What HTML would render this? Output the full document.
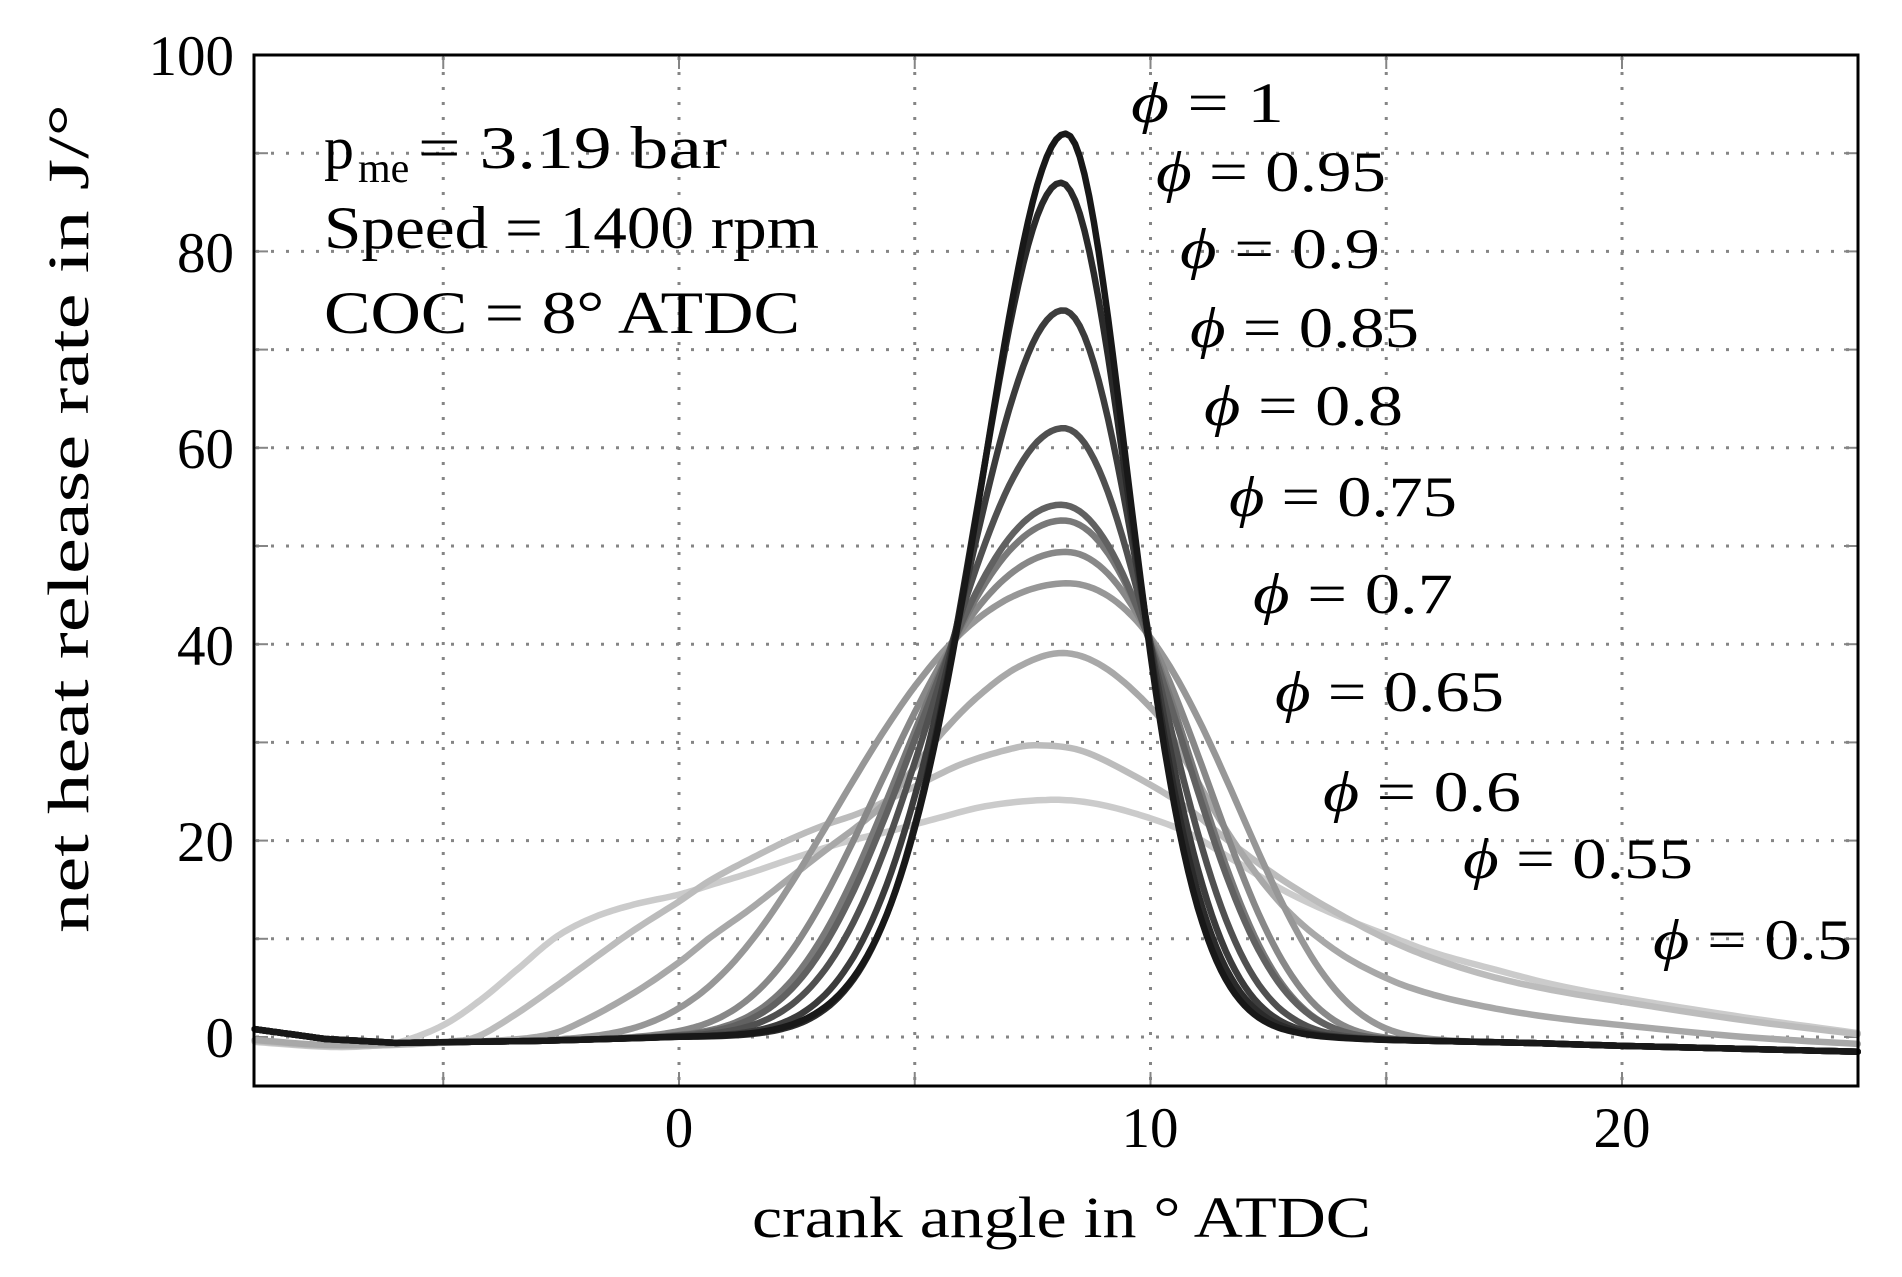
<!DOCTYPE html>
<html><head><meta charset="utf-8"><style>
html,body{margin:0;padding:0;background:#fff;}
svg{display:block;font-family:"Liberation Serif","DejaVu Serif",serif;}
</style></head><body>
<svg id="s" width="1902" height="1277" viewBox="0 0 1902 1277" xmlns="http://www.w3.org/2000/svg">
<rect width="1902" height="1277" fill="#fff"/>
<g id="grid" stroke="#858585" stroke-width="3" stroke-dasharray="3 12" fill="none"></g>
<g id="ticks" stroke="#858585" stroke-width="2" fill="none"></g>
<g id="curves" fill="none" stroke-width="6.5" stroke-linejoin="round" stroke-linecap="round"></g>
<rect x="254" y="55" width="1604" height="1031" fill="none" stroke="#000" stroke-width="3"/>
<g font-size="57" fill="#000" text-anchor="end">
<text x="234" y="75">100</text><text x="234" y="272">80</text><text x="234" y="468">60</text>
<text x="234" y="665">40</text><text x="234" y="861">20</text><text x="234" y="1057">0</text>
</g>
<g font-size="57" fill="#000" text-anchor="middle">
<text x="679" y="1147">0</text><text x="1150" y="1147">10</text><text x="1622" y="1147">20</text>
</g>
<text x="752" y="1237" font-size="58" textLength="619" lengthAdjust="spacingAndGlyphs">crank angle in ° ATDC</text>
<text transform="translate(88,933) rotate(-90)" font-size="58" textLength="829" lengthAdjust="spacingAndGlyphs">net heat release rate in J/°</text>
<g font-size="60" fill="#000">
<text x="324" y="168">p</text><text x="358" y="182" font-size="42">me</text><text x="418" y="168" textLength="309" lengthAdjust="spacingAndGlyphs">= 3.19 bar</text>
<text x="324" y="248" textLength="495" lengthAdjust="spacingAndGlyphs">Speed = 1400 rpm</text>
<text x="324" y="333" textLength="476" lengthAdjust="spacingAndGlyphs">COC = 8° ATDC</text>
</g>
<g font-size="57" fill="#000" id="labels"></g>
</svg>
<script>
var NS="http://www.w3.org/2000/svg";
function X(x){return 679+x*47.15;}
function Y(y){return 1037-y*9.82;}
var g=document.getElementById('grid'),tk=document.getElementById('ticks');
function line(p,x1,y1,x2,y2){var l=document.createElementNS(NS,'line');l.setAttribute('x1',x1);l.setAttribute('y1',y1);l.setAttribute('x2',x2);l.setAttribute('y2',y2);p.appendChild(l);}
[-5,0,5,10,15,20].forEach(function(v){line(g,X(v),57,X(v),1084);line(tk,X(v),1086,X(v),1072);line(tk,X(v),55,X(v),69);});
for(var v=0;v<=90;v+=10){line(g,256,Y(v),1856,Y(v));line(tk,254,Y(v),268,Y(v));line(tk,1858,Y(v),1844,Y(v));}
function b(x){var P=[[-9,0.8],[-7.5,-0.2],[-6,-0.6],[-3,-0.4],[0,0],[13,0],[15,-0.3],[18,-0.6],[20,-0.9],[25,-1.5]];
 for(var i=0;i<P.length-1;i++){if(x<=P[i+1][0]){var t=(x-P[i][0])/(P[i+1][0]-P[i][0]);return P[i][1]+t*(P[i+1][1]-P[i][1]);}}return -1.5;}
function gf(z,p){return Math.exp(-(Math.pow(1+z*z,p/2)-1)/p);}
function solveZ(r,p){var lo=0,hi=20;for(var i=0;i<60;i++){var m=(lo+hi)/2;if(gf(m,p)>r)lo=m;else hi=m;}return (lo+hi)/2;}
function para(A,c,xl,xr,p){var z0=solveZ(40/A,p);var sl=(c-xl)/z0,sr=(xr-c)/z0;var pts=[];
 for(var x=-9;x<=25.001;x+=0.1){var z=x<c?(c-x)/sl:(x-c)/sr;pts.push([X(x),Y(A*gf(z,p)+b(x))]);}return pts;}
function cr(P){var pts=[];for(var i=0;i<P.length-1;i++){var p0=P[Math.max(i-1,0)],p1=P[i],p2=P[i+1],p3=P[Math.min(i+2,P.length-1)];
 for(var t=0;t<1;t+=0.1){var t2=t*t,t3=t2*t;var f=function(a,b2,c2,d){return 0.5*((2*b2)+(-a+c2)*t+(2*a-5*b2+4*c2-d)*t2+(-a+3*b2-3*c2+d)*t3);};
 pts.push([X(f(p0[0],p1[0],p2[0],p3[0])),Y(f(p0[1],p1[1],p2[1],p3[1]))]);}}
 var L=P[P.length-1];pts.push([X(L[0]),Y(L[1])]);return pts;}
function draw(pts,col){var d='M'+pts.map(function(p){return p[0].toFixed(1)+' '+p[1].toFixed(1);}).join('L');
 var pa=document.createElementNS(NS,'path');pa.setAttribute('d',d);pa.setAttribute('stroke',col);document.getElementById('curves').appendChild(pa);}
var c05=[[-9,-0.5],[-7.5,-1],[-6.5,-0.9],[-5.9,-0.5],[-5,1.2],[-4.2,3.8],[-3.4,7],[-2.6,10.2],[-1.8,12.2],[-0.95,13.5],[0,14.5],[0.68,15.5],[1.5,16.7],[2.3,18],[3.4,19.7],[4.5,21],[5.5,22.3],[6.5,23.5],[7.6,24.1],[8.5,24],[9.5,23],[10.7,21],[11.7,18.2],[12.8,15],[13.9,12.5],[15,10.4],[16,8.6],[17.2,7],[18.5,5.4],[20,4],[22.6,2],[25,0.4]];
var c055=[[-9,-0.4],[-7.5,-0.9],[-6,-0.8],[-5,-0.5],[-4.3,0],[-3.5,2.2],[-2.6,5.2],[-1.8,8],[-0.95,10.9],[0,13.8],[0.68,16],[1.5,18.1],[2.3,20],[3.1,21.6],[3.93,23],[5,25.5],[6,27.8],[7,29.3],[7.6,29.7],[8.5,29.2],[9.5,27],[10.7,23.6],[11.7,19.8],[12.8,16],[13.9,12.8],[15,10],[16,8],[17.2,6.2],[18.5,4.8],[20,3.6],[22.6,1.7],[25,0.3]];
var c06=[[-9,-0.3],[-7.5,-0.8],[-6,-0.7],[-4,-0.4],[-2.8,0.2],[-2,1.7],[-0.95,4.5],[0,7.6],[0.68,10.2],[1.5,13],[2.3,16],[3.1,19],[3.93,22],[4.5,24.5],[5,27.5],[5.55,30.8],[6.3,34.5],[7.2,37.7],[8.15,39.1],[9.1,37.4],[10.2,32.5],[10.7,28.5],[11.75,20],[12.8,13.4],[13.9,8.9],[15,6],[16,4.3],[17.2,3],[18.5,2],[20,1.2],[22.6,0],[25,-0.7]];
draw(cr(c05),'#cbcbcb');draw(cr(c055),'#bcbcbc');draw(cr(c06),'#a8a8a8');
var P=[[46.2,8.25,5.75,10.1,3.5,'#979797'],[49.4,8.2,5.8,10.05,3.2,'#888888'],[52.6,8.15,5.8,10.02,2.9,'#797979'],[54.2,8.1,5.8,10.0,2.7,'#616161'],[62,8.15,5.78,10.0,2.3,'#505050'],[74,8.15,5.8,10.0,2.0,'#3c3c3c'],[87,8.1,5.82,9.98,1.8,'#2a2a2a'],[92,8.2,5.84,9.97,1.7,'#181818']];
P.forEach(function(p){draw(para(p[0],p[1],p[2],p[3],p[4]),p[5]);});
var labs=[['1',1131,122,153],['0.95',1156,191,230],['0.9',1180,268,200],['0.85',1190,347,229],['0.8',1204,425,199],['0.75',1229,516,228],['0.7',1253,613,200],['0.65',1275,711,229],['0.6',1323,811,198],['0.55',1463,878,230],['0.5',1653,959,199]];
var lg=document.getElementById('labels');
labs.forEach(function(l){var t=document.createElementNS(NS,'text');t.setAttribute('x',l[1]);t.setAttribute('y',l[2]);
 t.setAttribute('textLength',l[3]);t.setAttribute('lengthAdjust','spacingAndGlyphs');
 var ts=document.createElementNS(NS,'tspan');ts.setAttribute('font-style','italic');ts.appendChild(document.createTextNode('\u03D5'));t.appendChild(ts);
 t.appendChild(document.createTextNode(' = '+l[0]));lg.appendChild(t);});
</script>
</body></html>
